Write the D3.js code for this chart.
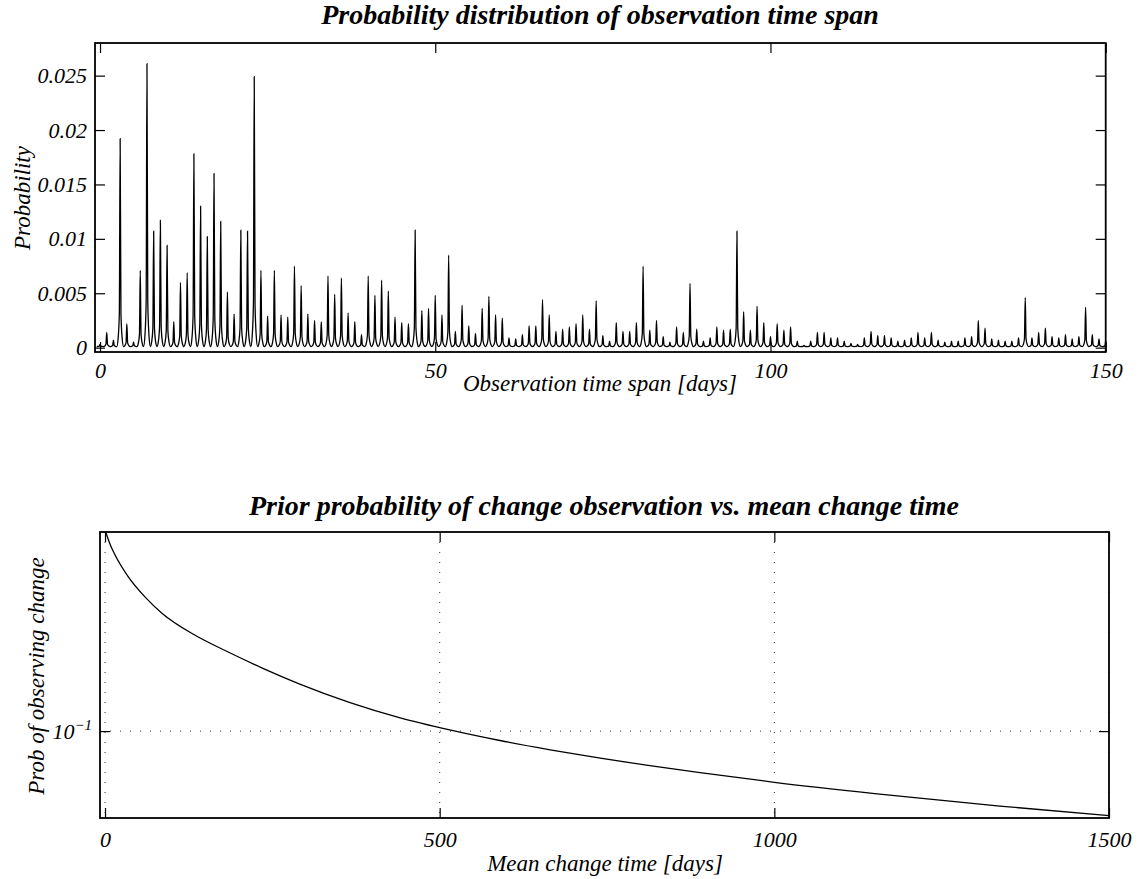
<!DOCTYPE html>
<html lang="en">
<head>
<meta charset="UTF-8">
<title>Observation time span</title>
<script src="https://d3js.org/d3.v7.min.js"></script>
<style type="text/css">
    body { margin: 0; background: #fff; }
    svg text { font-family: "Liberation Serif", "Times New Roman", Times, serif; font-style: italic; fill: #000; }
    .title { font-weight: bold; font-size: 28px; }
    .lbl { font-size: 23px; }
    .tick text { font-size: 22px; }
</style>
</head>
<body>
<div id="chart"></div>
<script type="text/javascript">

    // top panel: peak probability for each day 0..150
    var spanDays = d3.range(0, 151);
    var spanProb = [
        0.0003, 0.0014, 0.0007, 0.0192, 0.0022, 0.0005, 0.0071, 0.0261, 0.0107, 0.0117,
        0.0094, 0.0024, 0.0060, 0.0069, 0.0178, 0.0130, 0.0102, 0.0160, 0.0116, 0.0051,
        0.0031, 0.0108, 0.0107, 0.0249, 0.0071, 0.0029, 0.0071, 0.0030, 0.0028, 0.0075,
        0.0057, 0.0031, 0.0025, 0.0024, 0.0066, 0.0049, 0.0064, 0.0032, 0.0024, 0.0012,
        0.0066, 0.0048, 0.0062, 0.0052, 0.0028, 0.0023, 0.0022, 0.0108, 0.0034, 0.0036,
        0.0048, 0.0030, 0.0085, 0.0015, 0.0039, 0.0020, 0.0013, 0.0036, 0.0047, 0.0030,
        0.0027, 0.0009, 0.0008, 0.0012, 0.0020, 0.0020, 0.0044, 0.0030, 0.0015, 0.0017,
        0.0019, 0.0022, 0.0030, 0.0017, 0.0043, 0.0011, 0.0006, 0.0023, 0.0015, 0.0015,
        0.0023, 0.0075, 0.0016, 0.0025, 0.0010, 0.0005, 0.0019, 0.0014, 0.0059, 0.0017,
        0.0006, 0.0009, 0.0019, 0.0016, 0.0017, 0.0107, 0.0033, 0.0016, 0.0038, 0.0023,
        0.0010, 0.0022, 0.0016, 0.0019, 0.0006, 0.0002, 0.0006, 0.0014, 0.0014, 0.0009,
        0.0009, 0.0006, 0.0004, 0.0003, 0.0009, 0.0015, 0.0011, 0.0011, 0.0009, 0.0006,
        0.0007, 0.0009, 0.0014, 0.0009, 0.0014, 0.0007, 0.0005, 0.0006, 0.0006, 0.0009,
        0.0010, 0.0025, 0.0018, 0.0008, 0.0007, 0.0006, 0.0006, 0.0009, 0.0046, 0.0009,
        0.0014, 0.0018, 0.0010, 0.0009, 0.0012, 0.0008, 0.0010, 0.0037, 0.0012, 0.0008,
        0.0006
    ];
    var spanFloor = 0.0001;
    var spanXTicks = [0, 50, 100, 150];
    var spanYTicks = [0, 0.005, 0.01, 0.015, 0.02, 0.025];
    var spanYLabels = ["0", "0.005", "0.01", "0.015", "0.02", "0.025"];

    // bottom panel: prior probability vs mean change time
    var meanTime = [1, 8, 15, 34, 60, 85, 134, 184, 235, 291, 441, 515, 590, 665, 740, 814, 889, 1000, 1150, 1337, 1500];
    var priorProb = [0.935, 0.808, 0.722, 0.570, 0.450, 0.376, 0.294, 0.243, 0.203, 0.1696, 0.1161, 0.1014,
                     0.0900, 0.0811, 0.0738, 0.0678, 0.0627, 0.0563, 0.0496, 0.0431, 0.0387];
    var meanXTicks = [0, 500, 1000, 1500];
    var meanYTicks = [0.1];

    var svg = d3.select("#chart").append("svg")
        .attr("width", 1138)
        .attr("height", 879);

    // helper to draw matlab style box with inward ticks
    function drawBox(g, x, y, xTicks, yTicks, xFmt, yFmt, xPad) {
        var x0 = x.range()[0], x1 = x.range()[1];
        var y0 = y.range()[0], y1 = y.range()[1];

        g.append("g").attr("transform", "translate(0," + y0 + ")")
            .call(d3.axisBottom(x).tickValues(xTicks).tickSize(-10).tickPadding(xPad).tickFormat(xFmt))
            .call(function(a){ a.select(".domain").remove(); });
        g.append("g").attr("transform", "translate(0," + y1 + ")")
            .call(d3.axisTop(x).tickValues(xTicks).tickSize(-10).tickFormat(""))
            .call(function(a){ a.select(".domain").remove(); });
        var yl = g.append("g").attr("transform", "translate(" + x0 + ",0)")
            .call(d3.axisLeft(y).tickValues(yTicks).tickSize(-10).tickPadding(8).tickFormat(yFmt))
            .call(function(a){ a.select(".domain").remove(); });
        g.append("g").attr("transform", "translate(" + x1 + ",0)")
            .call(d3.axisRight(y).tickValues(yTicks).tickSize(-10).tickFormat(""))
            .call(function(a){ a.select(".domain").remove(); });

        g.selectAll(".tick line").attr("stroke", "#000").attr("stroke-width", 1.2);
        g.selectAll(".tick text").attr("font-size", null).attr("font-family", null);

        g.append("rect")
            .attr("x", x0).attr("y", y1)
            .attr("width", x1 - x0).attr("height", y0 - y1)
            .attr("fill", "none").attr("stroke", "#000").attr("stroke-width", 1.8);
        return yl;
    }

    //---------------- top panel
    var xTop = d3.scaleLinear().domain([-0.75, 150]).range([95, 1105.7]);
    var yTop = d3.scaleLinear().domain([-0.0004, 0.028]).range([352, 43]);

    var topPanel = svg.append("g");

    // each day is drawn as a narrow peak
    var peakOffsets = [-0.5, -0.3, -0.12, 0, 0.12, 0.3];
    var peakShape = [0, 0.04, 0.16, 1, 0.16, 0.04];
    var spikePts = [];
    spanDays.forEach(function(d, i) {
        peakOffsets.forEach(function(o, k) {
            spikePts.push([d + o, spanFloor + peakShape[k] * (spanProb[i] - spanFloor)]);
        });
    });
    spikePts.push([150.5, spanFloor]);

    topPanel.append("path")
        .datum(spikePts.filter(function(p){ return p[0] >= -0.75 && p[0] <= 150; }))
        .attr("fill", "none")
        .attr("stroke", "#000")
        .attr("stroke-width", 1.3)
        .attr("d", d3.line()
            .x(function(p){ return xTop(p[0]); })
            .y(function(p){ return yTop(p[1]); })
            .curve(d3.curveMonotoneX));

    drawBox(topPanel, xTop, yTop, spanXTicks, spanYTicks, d3.format("d"),
        function(v, i){ return spanYLabels[i]; }, 10);

    topPanel.append("text").attr("class", "title")
        .attr("x", 600).attr("y", 24).attr("text-anchor", "middle")
        .text("Probability distribution of observation time span");
    topPanel.append("text").attr("class", "lbl")
        .attr("x", 600).attr("y", 391).attr("text-anchor", "middle")
        .text("Observation time span [days]");
    topPanel.append("text").attr("class", "lbl")
        .attr("transform", "translate(30,198) rotate(-90)").attr("text-anchor", "middle")
        .text("Probability");

    //---------------- bottom panel
    var xBot = d3.scaleLinear().domain([-7.5, 1500]).range([100, 1109]);
    var yBot = d3.scaleLog().domain([0.0377, 0.935]).range([818, 532]);

    var botPanel = svg.append("g");

    // dotted grid
    botPanel.selectAll("line.gx").data(meanXTicks).enter().append("line")
        .attr("class", "gx")
        .attr("x1", function(d){ return xBot(d); }).attr("x2", function(d){ return xBot(d); })
        .attr("y1", 532).attr("y2", 818)
        .attr("stroke", "#333").attr("stroke-width", 1).attr("stroke-dasharray", "1,9");
    botPanel.selectAll("line.gy").data(meanYTicks).enter().append("line")
        .attr("class", "gy")
        .attr("x1", 100).attr("x2", 1109)
        .attr("y1", function(d){ return yBot(d); }).attr("y2", function(d){ return yBot(d); })
        .attr("stroke", "#333").attr("stroke-width", 1).attr("stroke-dasharray", "1,9");

    botPanel.append("path")
        .datum(meanTime.map(function(t, i){ return [t, priorProb[i]]; }))
        .attr("fill", "none")
        .attr("stroke", "#000")
        .attr("stroke-width", 1.3)
        .attr("d", d3.line()
            .x(function(p){ return xBot(p[0]); })
            .y(function(p){ return yBot(p[1]); })
            .curve(d3.curveMonotoneX));

    var yAx = drawBox(botPanel, xBot, yBot, meanXTicks, meanYTicks, d3.format("d"), function(){ return ""; }, 13);

    // 10^-1 label
    yAx.selectAll(".tick text").each(function(d) {
        var t = d3.select(this).text(null);
        t.append("tspan").text("10");
        t.append("tspan").attr("dy", "-0.55em").attr("font-size", "15px").text("\u22121");
    });

    botPanel.append("text").attr("class", "title")
        .attr("x", 604).attr("y", 515).attr("text-anchor", "middle")
        .text("Prior probability of change observation vs. mean change time");
    botPanel.append("text").attr("class", "lbl")
        .attr("x", 605).attr("y", 871).attr("text-anchor", "middle")
        .text("Mean change time [days]");
    botPanel.append("text").attr("class", "lbl")
        .attr("transform", "translate(44,676) rotate(-90)").attr("text-anchor", "middle")
        .text("Prob of observing change");

</script>
</body>
</html>
